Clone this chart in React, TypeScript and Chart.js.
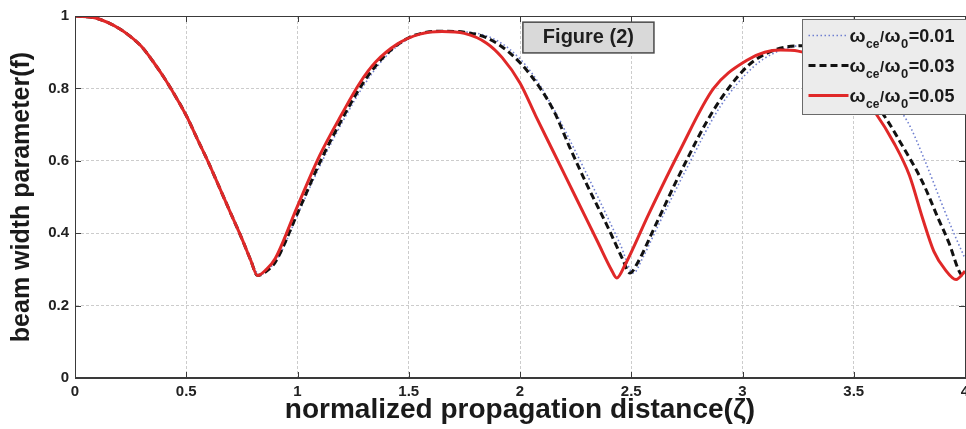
import React, { useEffect, useRef } from 'react';
import { Chart, registerables } from 'chart.js';

Chart.register(...registerables);

// ---------- data ----------
const ratioLabels = ['0.01', '0.03', '0.05'];

const zeta001 = [0, 0.1, 0.2, 0.25, 0.3, 0.35, 0.4, 0.45, 0.5, 0.55, 0.6, 0.65, 0.7, 0.75, 0.79, 0.83, 0.87, 0.92, 1.0, 1.1, 1.2, 1.3, 1.4, 1.5, 1.58, 1.65, 1.75, 1.85, 1.95, 2.05, 2.15, 2.25, 2.35, 2.45, 2.51, 2.55, 2.62, 2.75, 2.9, 3.05, 3.15, 3.25, 3.33, 3.42, 3.52, 3.62, 3.74, 3.82, 3.89, 3.95, 4.0];
const f001 = [1.0, 0.993, 0.965, 0.943, 0.915, 0.875, 0.83, 0.78, 0.725, 0.66, 0.595, 0.525, 0.455, 0.385, 0.325, 0.285, 0.3, 0.34, 0.45, 0.585, 0.705, 0.81, 0.89, 0.937, 0.953, 0.957, 0.956, 0.945, 0.91, 0.845, 0.745, 0.625, 0.5, 0.37, 0.29, 0.33, 0.42, 0.58, 0.75, 0.86, 0.9, 0.918, 0.92, 0.9, 0.86, 0.8, 0.71, 0.6, 0.49, 0.4, 0.33];

const zeta003 = [0, 0.1, 0.2, 0.25, 0.3, 0.35, 0.4, 0.45, 0.5, 0.55, 0.6, 0.65, 0.7, 0.75, 0.79, 0.82, 0.86, 0.9, 1.0, 1.1, 1.2, 1.3, 1.4, 1.5, 1.58, 1.65, 1.75, 1.85, 1.95, 2.05, 2.15, 2.225, 2.3, 2.4, 2.46, 2.494, 2.53, 2.6, 2.72, 2.87, 3.02, 3.12, 3.2, 3.28, 3.36, 3.45, 3.55, 3.63, 3.72, 3.81, 3.88, 3.93, 3.97, 3.99, 4.0];
const f003 = [1.0, 0.993, 0.965, 0.943, 0.915, 0.875, 0.83, 0.78, 0.725, 0.66, 0.595, 0.525, 0.455, 0.385, 0.325, 0.283, 0.295, 0.32, 0.455, 0.595, 0.715, 0.82, 0.895, 0.94, 0.955, 0.958, 0.955, 0.94, 0.9, 0.835, 0.74, 0.635, 0.535, 0.41, 0.33, 0.29, 0.32, 0.41, 0.566, 0.74, 0.86, 0.9, 0.915, 0.918, 0.9, 0.85, 0.785, 0.73, 0.64, 0.54, 0.44, 0.37, 0.3, 0.282, 0.285];

const zeta005 = [0, 0.1, 0.2, 0.25, 0.3, 0.35, 0.4, 0.45, 0.5, 0.55, 0.6, 0.65, 0.7, 0.75, 0.79, 0.82, 0.86, 0.9, 1.0, 1.1, 1.2, 1.28, 1.35, 1.45, 1.55, 1.65, 1.75, 1.85, 1.92, 2.0, 2.07, 2.15, 2.25, 2.35, 2.41, 2.435, 2.47, 2.58, 2.72, 2.87, 3.02, 3.1, 3.17, 3.25, 3.35, 3.45, 3.52, 3.6, 3.68, 3.75, 3.81, 3.86, 3.91, 3.96, 4.0];
const f005 = [1.0, 0.993, 0.965, 0.943, 0.915, 0.875, 0.83, 0.78, 0.725, 0.66, 0.595, 0.525, 0.455, 0.385, 0.325, 0.283, 0.3, 0.33, 0.475, 0.615, 0.73, 0.815, 0.872, 0.923, 0.95, 0.957, 0.952, 0.925, 0.885, 0.815, 0.725, 0.625, 0.5, 0.375, 0.3, 0.276, 0.31, 0.455, 0.63, 0.8, 0.878, 0.9, 0.906, 0.903, 0.88, 0.83, 0.79, 0.73, 0.65, 0.56, 0.44, 0.35, 0.3, 0.272, 0.295];

const xTickStep = 0.5;
const yTickStep = 0.2;
const xTitle = 'normalized propagation distance(\u03B6)';
const yTitle = 'beam width parameter(f)';
const figureLabel = 'Figure (2)';
// annotation box corners in data units
const figLabelX = [2.013, 2.602];
const figLabelY = [0.983, 0.898];

const FONT = '"Liberation Sans", Arial, Helvetica, sans-serif';

const toPoints = (xs: number[], ys: number[]) => xs.map((x, i) => ({ x, y: ys[i] }));
const fmtTick = (v: any) => String(Number(Number(v).toFixed(2)));

// ---------- plugins ----------
const framePlugin = {
  id: 'frame',
  afterDatasetsDraw(chart: any) {
    const { ctx, chartArea: a, scales } = chart;
    const x = scales.x;
    const y = scales.y;
    ctx.save();
    ctx.strokeStyle = '#3a3a3a';
    ctx.lineWidth = 1;
    ctx.setLineDash([]);
    ctx.strokeRect(Math.round(a.left) + 0.5, Math.round(a.top) + 0.5, Math.round(a.right - a.left), Math.round(a.bottom - a.top) - 1);
    ctx.beginPath();
    x.ticks.forEach((t: any) => {
      const px = Math.round(x.getPixelForValue(t.value)) + 0.5;
      ctx.moveTo(px, a.bottom);
      ctx.lineTo(px, a.bottom - 6);
      ctx.moveTo(px, a.top);
      ctx.lineTo(px, a.top + 6);
    });
    y.ticks.forEach((t: any) => {
      const py = Math.round(y.getPixelForValue(t.value)) + 0.5;
      ctx.moveTo(a.left, py);
      ctx.lineTo(a.left + 6, py);
      ctx.moveTo(a.right, py);
      ctx.lineTo(a.right - 6, py);
    });
    ctx.stroke();

    // "Figure (2)" annotation box
    const bx0 = x.getPixelForValue(figLabelX[0]);
    const bx1 = x.getPixelForValue(figLabelX[1]);
    const by0 = y.getPixelForValue(figLabelY[0]);
    const by1 = y.getPixelForValue(figLabelY[1]);
    ctx.fillStyle = '#d9d9d9';
    ctx.fillRect(bx0, by0, bx1 - bx0, by1 - by0);
    ctx.strokeStyle = '#4a4a4a';
    ctx.lineWidth = 1.5;
    ctx.strokeRect(bx0, by0, bx1 - bx0, by1 - by0);
    ctx.fillStyle = '#1e1e1e';
    ctx.font = `bold 20px ${FONT}`;
    ctx.textAlign = 'center';
    ctx.textBaseline = 'middle';
    ctx.fillText(figureLabel, (bx0 + bx1) / 2, (by0 + by1) / 2);
    ctx.restore();
  },
};

const legendPlugin = {
  id: 'mathLegend',
  afterDraw(chart: any) {
    const { ctx, chartArea: a } = chart;
    const left = Math.round(a.right - 163) + 0.5;
    const top = Math.round(a.top + 3) + 0.5;
    const w = 175;
    const h = 95;
    ctx.save();
    ctx.fillStyle = '#ececec';
    ctx.fillRect(left, top, w, h);
    ctx.strokeStyle = '#6a6a6a';
    ctx.lineWidth = 1;
    ctx.strokeRect(left, top, w, h);
    chart.data.datasets.forEach((ds: any, i: number) => {
      const cy = top + 16 + i * 30;
      ctx.strokeStyle = ds.borderColor;
      ctx.lineWidth = ds.borderWidth;
      ctx.setLineDash(ds.borderDash || []);
      ctx.beginPath();
      ctx.moveTo(left + 6, cy);
      ctx.lineTo(left + 46, cy);
      ctx.stroke();
      ctx.setLineDash([]);
      const base = cy + 6.5;
      const parts = [
        { t: '\u03C9', f: `bold 19px ${FONT}`, dy: 0 },
        { t: 'ce', f: `bold 12px ${FONT}`, dy: 6 },
        { t: '/', f: `bold 15px ${FONT}`, dy: 0 },
        { t: '\u03C9', f: `bold 19px ${FONT}`, dy: 0 },
        { t: '0', f: `bold 13px ${FONT}`, dy: 6 },
        { t: '=' + ds.ratio, f: `bold 18px ${FONT}`, dy: 0 },
      ];
      let tx = left + 47;
      ctx.fillStyle = '#1a1a1a';
      ctx.textAlign = 'left';
      ctx.textBaseline = 'alphabetic';
      parts.forEach((p) => {
        ctx.font = p.f;
        ctx.fillText(p.t, tx, base + p.dy);
        tx += ctx.measureText(p.t).width + 0.5;
      });
    });
    ctx.restore();
  },
};

export default function App() {
  const canvasRef = useRef<HTMLCanvasElement | null>(null);

  useEffect(() => {
    if (!canvasRef.current) return;
    const chart = new Chart(canvasRef.current, {
      type: 'line',
      data: {
        datasets: [
          {
            label: '\u03C9ce/\u03C90=' + ratioLabels[0],
            ratio: ratioLabels[0],
            data: toPoints(zeta001, f001),
            borderColor: '#6f7fd0',
            borderWidth: 1.6,
            borderDash: [1.5, 2.5],
            pointRadius: 0,
            fill: false,
            cubicInterpolationMode: 'monotone',
            order: 2,
          } as any,
          {
            label: '\u03C9ce/\u03C90=' + ratioLabels[1],
            ratio: ratioLabels[1],
            data: toPoints(zeta003, f003),
            borderColor: '#111111',
            borderWidth: 3,
            borderDash: [7, 4],
            pointRadius: 0,
            fill: false,
            cubicInterpolationMode: 'monotone',
            order: 1,
          } as any,
          {
            label: '\u03C9ce/\u03C90=' + ratioLabels[2],
            ratio: ratioLabels[2],
            data: toPoints(zeta005, f005),
            borderColor: '#e02828',
            borderWidth: 3,
            pointRadius: 0,
            fill: false,
            cubicInterpolationMode: 'monotone',
            order: 0,
          } as any,
        ],
      },
      options: {
        responsive: false,
        animation: false,
        layout: { padding: { top: 16, right: 1, left: 0, bottom: 0 } },
        plugins: {
          legend: { display: false },
          tooltip: { enabled: false },
        },
        scales: {
          x: {
            type: 'linear',
            min: 0,
            max: 4,
            ticks: {
              stepSize: xTickStep,
              color: '#222',
              font: { family: FONT, size: 15, weight: 'bold' },
              padding: 5,
              maxRotation: 0,
              callback: fmtTick,
            },
            grid: { color: '#cccccc', lineWidth: 1, drawTicks: false },
            border: { color: '#3a3a3a', dash: [3, 2] },
            title: {
              display: true,
              text: xTitle,
              color: '#1a1a1a',
              font: { family: FONT, size: 28, weight: 'bold' },
              padding: { top: 4, bottom: 2 },
            },
            afterFit(scale: any) {
              scale.height = 51;
              scale.paddingLeft = 0;
              scale.paddingRight = 0;
            },
          },
          y: {
            type: 'linear',
            min: 0,
            max: 1,
            ticks: {
              stepSize: yTickStep,
              color: '#222',
              font: { family: FONT, size: 15, weight: 'bold' },
              padding: 6,
              callback: fmtTick,
            },
            grid: { color: '#cccccc', lineWidth: 1, drawTicks: false },
            border: { color: '#3a3a3a', dash: [3, 2] },
            title: {
              display: true,
              text: yTitle,
              color: '#1a1a1a',
              font: { family: FONT, size: 25, weight: 'bold' },
              padding: { top: 7, bottom: 4 },
            },
            afterFit(scale: any) {
              scale.width = 75;
            },
          },
        },
      } as any,
      plugins: [framePlugin, legendPlugin],
    });
    return () => chart.destroy();
  }, []);

  return (
    <div style={{ position: 'absolute', left: 0, top: 0, width: 966, height: 429, background: '#fff' }}>
      <canvas ref={canvasRef} width={966} height={429} style={{ display: 'block' }} />
    </div>
  );
}
